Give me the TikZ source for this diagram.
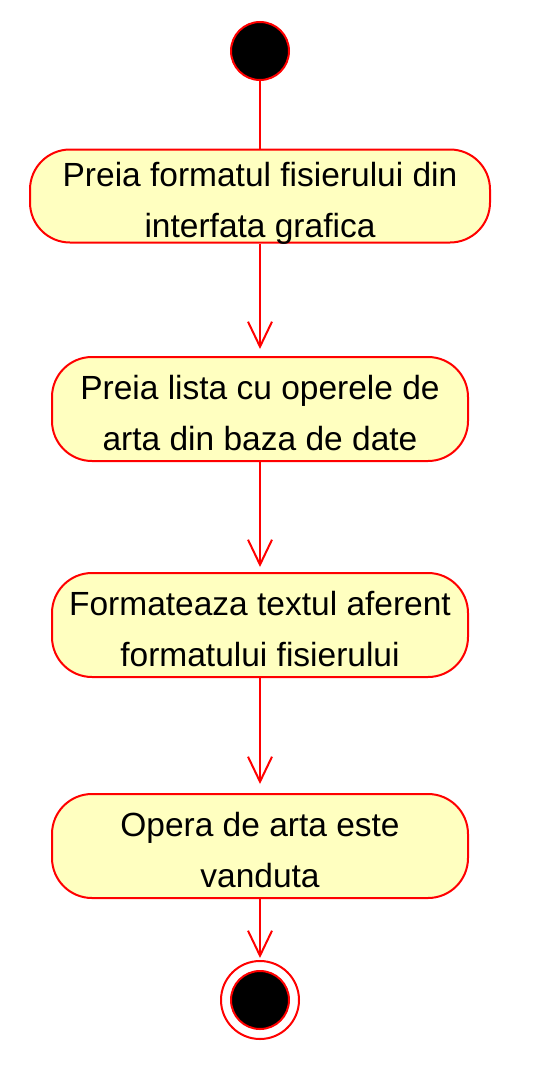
\documentclass[tikz,border=0pt]{standalone}
\usepackage{fontspec}
\setmainfont{Liberation Sans}
\usetikzlibrary{arrows.meta}
\definecolor{boxfill}{HTML}{FFFFC0}
\tikzset{
  act/.style={draw=red, fill=boxfill, line width=2pt, rounded corners=40pt, inner sep=0pt},
  lbl/.style={align=center, inner sep=0pt, font=\fontsize{33.5}{51}\selectfont},
  flow/.style={draw=red, line width=2pt, -{Straight Barb[length=25pt,width=24pt,line width=2pt]}},
  plain/.style={draw=red, line width=2pt}
}
\begin{document}
\begin{tikzpicture}[x=1pt,y=-1pt]
\useasboundingbox (0,0) rectangle (534,1068);
\node[circle, fill=black, draw=red, line width=2pt, minimum size=58pt, inner sep=0pt] (start) at (260,51) {};
\node[act, minimum width=460pt, minimum height=93pt] (a1) at (260,196) {};
\node[lbl] (t1) at (260,203) {Preia formatul fisierului din\\interfata grafica};
\node[act, minimum width=416pt, minimum height=104pt] (a2) at (260,409) {};
\node[lbl] (t2) at (260,413) {Preia lista cu operele de\\arta din baza de date};
\node[act, minimum width=416pt, minimum height=104pt] (a3) at (260,625) {};
\node[lbl] (t3) at (260,629) {Formateaza textul aferent\\formatului fisierului};
\node[act, minimum width=416pt, minimum height=104pt] (a4) at (260,846) {};
\node[lbl] (t4) at (260,850) {Opera de arta este\\vanduta};
\node[circle, draw=red, fill=white, line width=2pt, minimum size=78pt, inner sep=0pt] (endo) at (260,1000) {};
\node[circle, fill=black, draw=red, line width=2pt, minimum size=58pt, inner sep=0pt] (endi) at (260,1000) {};
\draw[plain] (start) -- (a1);
\draw[flow, shorten >=7pt] (a1) -- (a2);
\draw[flow, shorten >=5pt] (a2) -- (a3);
\draw[flow, shorten >=9pt] (a3) -- (a4);
\draw[flow, shorten >=2pt] (a4) -- (endo);
\end{tikzpicture}
\end{document}
